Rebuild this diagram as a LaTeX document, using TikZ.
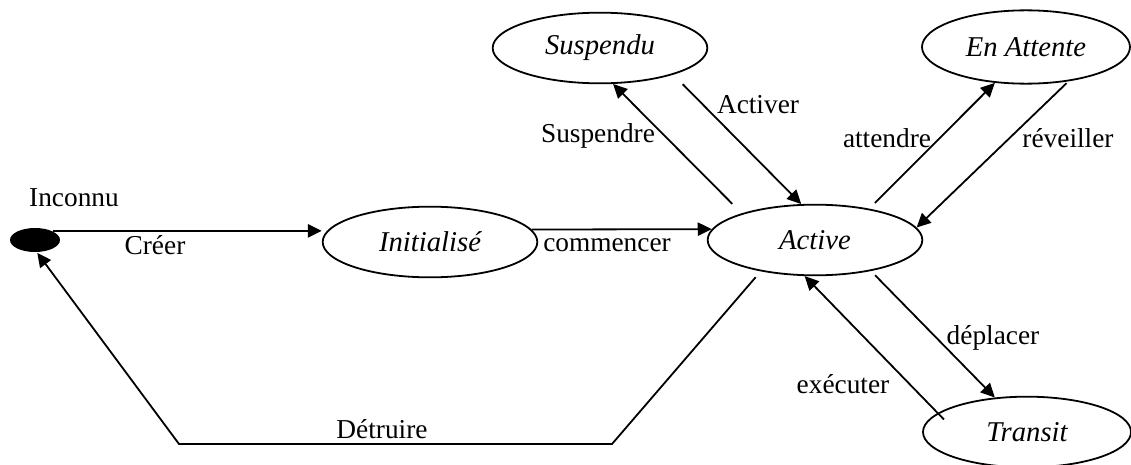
\documentclass[tikz,border=0pt]{standalone}
\usepackage{fontspec}
\setmainfont{Liberation Serif}
\usetikzlibrary{arrows.meta,shapes.geometric}

\begin{document}
\begin{tikzpicture}[x=0.75pt, y=-0.75pt, line width=1.35pt,
		font=\fontsize{20.5}{24}\selectfont,
		state/.style={draw, ellipse, inner sep=0pt, minimum width=161pt,
			minimum height=53pt, font=\fontsize{21.5}{25}\selectfont\itshape},
		trans/.style={-{Triangle[length=10.5pt,width=10pt]}}]
		\useasboundingbox (0,0) rectangle (1131,464);
		% ---- states ----
		\node[ellipse, fill=black, inner sep=0pt, minimum width=37.5pt,
			minimum height=18pt] (dot) at (35,240) {};
		\node (inconnu) at (74,198) {Inconnu};
		\node[state] (init) at (430,242) {Initialisé};
		\node[state] (active) at (815,240) {Active};
		\node[state] (suspendu) at (600,48) {Suspendu};
		\node[state, minimum width=156pt, minimum height=55pt] (attente) at (1026,47) {En Attente};
		\node[state, minimum width=156pt] (transit) at (1027,432) {Transit};
		% ---- transitions ----
		\draw[trans] (dot.north east) -- (dot.north east -| init.west);
		\draw[trans] (init.7) -- (active.174);
		\draw[trans, shorten <=10pt] (active.160) -- (suspendu.-70);
		\draw[trans, shorten <=10pt] (suspendu.-20) -- (active.111);
		\draw[trans, shorten <=6pt] (active.30) -- (attente.229);
		\draw[trans, shorten <=2pt] (attente.-39) -- (active.7);
		\draw[trans, shorten <=4.4pt] (active.-29) -- (transit.133);
		\draw[trans, shorten <=-6.7pt] (transit.168) -- (active.254);
		% destruction goes round under the states
		\coordinate (d1) at (612,444);
		\coordinate (d2) at (179,444);
		\draw[trans, shorten <=5.8pt] (active.210) -- (d1) -- (d2) -- (dot.-80);
		% ---- labels ----
		\node (creer) at (155,245) {Créer};
		\node (commencer) at (607,245) {commencer};
		\node (suspendre) at (598,136) {Suspendre};
		\node (activer) at (758,105) {Activer};
		\node (attendre) at (887,138) {attendre};
		\node (reveiller) at (1068,138) {réveiller};
		\node (deplacer) at (993,338) {déplacer};
		\node (executer) at (843,384) {exécuter};
		\node (detruire) at (382,429) {Détruire};
	\end{tikzpicture}
\end{document}
